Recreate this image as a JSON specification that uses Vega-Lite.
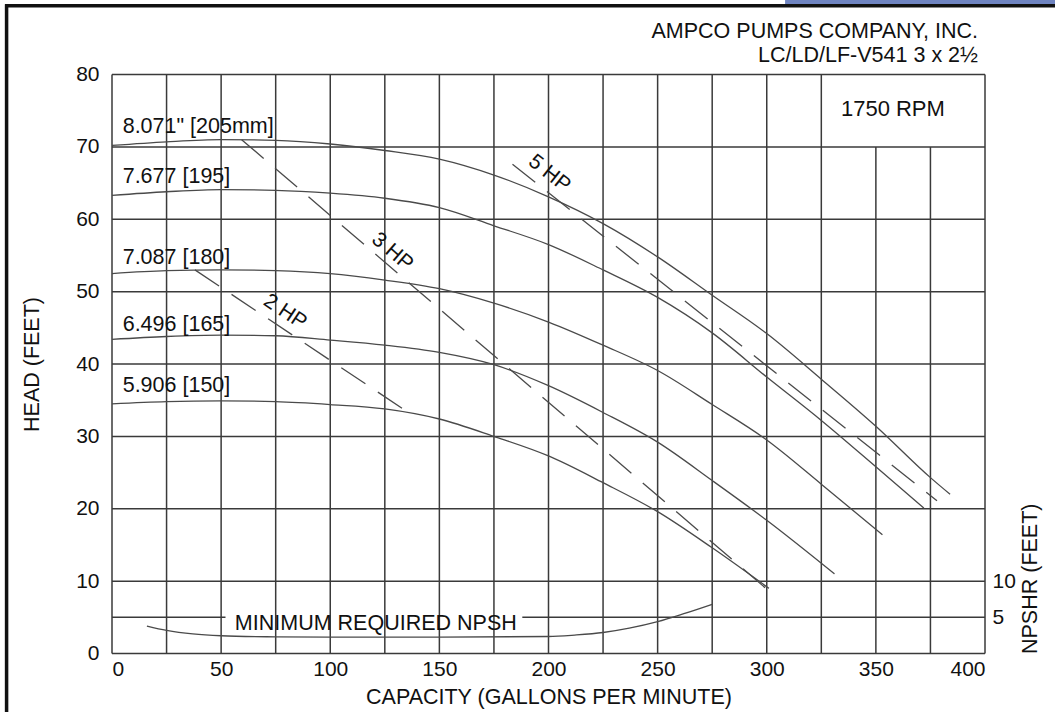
{
  "$schema": "https://vega.github.io/schema/vega-lite/v6.json",
  "width": 873,
  "height": 579,
  "autosize": {"type": "none"},
  "padding": {"left": 112, "top": 74.5, "right": 70, "bottom": 58.5},
  "background": "white",
  "config": {"view": {"stroke": null}, "font": "Liberation Sans"},
  "resolve": {"axis": {"y": "independent"}},
  "layer": [
    {
      "data": {"values": [
        {"x": 0, "x2": 0, "y": 0, "y2": 80},
        {"x": 25, "x2": 25, "y": 0, "y2": 80},
        {"x": 50, "x2": 50, "y": 0, "y2": 80},
        {"x": 75, "x2": 75, "y": 0, "y2": 80},
        {"x": 100, "x2": 100, "y": 0, "y2": 80},
        {"x": 125, "x2": 125, "y": 0, "y2": 80},
        {"x": 150, "x2": 150, "y": 0, "y2": 80},
        {"x": 175, "x2": 175, "y": 0, "y2": 80},
        {"x": 200, "x2": 200, "y": 0, "y2": 80},
        {"x": 225, "x2": 225, "y": 0, "y2": 80},
        {"x": 250, "x2": 250, "y": 0, "y2": 80},
        {"x": 275, "x2": 275, "y": 0, "y2": 80},
        {"x": 300, "x2": 300, "y": 0, "y2": 80},
        {"x": 325, "x2": 325, "y": 0, "y2": 80},
        {"x": 350, "x2": 350, "y": 0, "y2": 70},
        {"x": 375, "x2": 375, "y": 0, "y2": 70},
        {"x": 400, "x2": 400, "y": 0, "y2": 80},
        {"x": 0, "x2": 400, "y": 0, "y2": 0},
        {"x": 0, "x2": 52, "y": 5, "y2": 5},
        {"x": 188, "x2": 400, "y": 5, "y2": 5},
        {"x": 0, "x2": 400, "y": 10, "y2": 10},
        {"x": 0, "x2": 400, "y": 20, "y2": 20},
        {"x": 0, "x2": 400, "y": 30, "y2": 30},
        {"x": 0, "x2": 400, "y": 40, "y2": 40},
        {"x": 0, "x2": 400, "y": 50, "y2": 50},
        {"x": 0, "x2": 400, "y": 60, "y2": 60},
        {"x": 0, "x2": 400, "y": 70, "y2": 70},
        {"x": 0, "x2": 400, "y": 80, "y2": 80}
      ]},
      "mark": {"type": "rule", "color": "#3a3a3a", "strokeWidth": 1.5},
      "encoding": {
        "x": {"field": "x", "type": "quantitative",
          "scale": {"domain": [0, 400], "nice": false, "zero": false},
          "axis": {"values": [0, 50, 100, 150, 200, 250, 300, 350, 400], "title": "CAPACITY (GALLONS PER MINUTE)",
            "domain": false, "ticks": false, "grid": false, "labelFontSize": 21, "labelColor": "#111",
            "labelPadding": 5, "labelFont": "Liberation Sans", "titleFont": "Liberation Sans", "titleFontSize": 21.5,
            "titleFontWeight": "normal", "titleColor": "#111", "titlePadding": 7}},
        "x2": {"field": "x2"},
        "y": {"field": "y", "type": "quantitative",
          "scale": {"domain": [0, 80], "nice": false, "zero": false},
          "axis": {"values": [0, 10, 20, 30, 40, 50, 60, 70, 80], "title": "HEAD (FEET)", "orient": "left",
            "domain": false, "ticks": false, "grid": false, "labelFontSize": 21, "labelColor": "#111",
            "labelPadding": 13, "labelFont": "Liberation Sans", "titleFont": "Liberation Sans", "titleFontSize": 21.5,
            "titleFontWeight": "normal", "titleColor": "#111", "titlePadding": 32}},
        "y2": {"field": "y2"}
      }
    },
    {
      "data": {"values": [
        {"curve": "205", "gpm": 0, "head": 70.2}, {"curve": "205", "gpm": 25, "head": 70.7}, {"curve": "205", "gpm": 50, "head": 71.0},
        {"curve": "205", "gpm": 75, "head": 70.9}, {"curve": "205", "gpm": 100, "head": 70.4}, {"curve": "205", "gpm": 125, "head": 69.5},
        {"curve": "205", "gpm": 150, "head": 68.3}, {"curve": "205", "gpm": 175, "head": 66.1}, {"curve": "205", "gpm": 200, "head": 63.1},
        {"curve": "205", "gpm": 225, "head": 59.4}, {"curve": "205", "gpm": 250, "head": 54.8}, {"curve": "205", "gpm": 275, "head": 49.5},
        {"curve": "205", "gpm": 300, "head": 44.2}, {"curve": "205", "gpm": 325, "head": 37.9}, {"curve": "205", "gpm": 350, "head": 31.4},
        {"curve": "205", "gpm": 375, "head": 24.3}, {"curve": "205", "gpm": 384, "head": 22.0},
        {"curve": "195", "gpm": 0, "head": 63.3}, {"curve": "195", "gpm": 25, "head": 63.8}, {"curve": "195", "gpm": 50, "head": 64.1},
        {"curve": "195", "gpm": 75, "head": 64.0}, {"curve": "195", "gpm": 100, "head": 63.6}, {"curve": "195", "gpm": 125, "head": 62.9},
        {"curve": "195", "gpm": 150, "head": 61.6}, {"curve": "195", "gpm": 175, "head": 59.1}, {"curve": "195", "gpm": 200, "head": 56.5},
        {"curve": "195", "gpm": 225, "head": 53.0}, {"curve": "195", "gpm": 250, "head": 49.2}, {"curve": "195", "gpm": 275, "head": 44.3},
        {"curve": "195", "gpm": 300, "head": 38.2}, {"curve": "195", "gpm": 325, "head": 32.2}, {"curve": "195", "gpm": 350, "head": 25.8},
        {"curve": "195", "gpm": 372, "head": 20.1},
        {"curve": "180", "gpm": 0, "head": 52.5}, {"curve": "180", "gpm": 25, "head": 52.9}, {"curve": "180", "gpm": 50, "head": 53.0},
        {"curve": "180", "gpm": 75, "head": 52.9}, {"curve": "180", "gpm": 100, "head": 52.5}, {"curve": "180", "gpm": 125, "head": 51.6},
        {"curve": "180", "gpm": 150, "head": 50.4}, {"curve": "180", "gpm": 175, "head": 48.4}, {"curve": "180", "gpm": 200, "head": 45.8},
        {"curve": "180", "gpm": 225, "head": 42.6}, {"curve": "180", "gpm": 250, "head": 39.1}, {"curve": "180", "gpm": 275, "head": 34.4},
        {"curve": "180", "gpm": 300, "head": 29.5}, {"curve": "180", "gpm": 325, "head": 23.4}, {"curve": "180", "gpm": 353, "head": 16.4},
        {"curve": "165", "gpm": 0, "head": 43.4}, {"curve": "165", "gpm": 25, "head": 43.8}, {"curve": "165", "gpm": 50, "head": 44.0},
        {"curve": "165", "gpm": 75, "head": 43.9}, {"curve": "165", "gpm": 100, "head": 43.3}, {"curve": "165", "gpm": 125, "head": 42.6},
        {"curve": "165", "gpm": 150, "head": 41.6}, {"curve": "165", "gpm": 175, "head": 39.9}, {"curve": "165", "gpm": 200, "head": 37.0},
        {"curve": "165", "gpm": 225, "head": 33.3}, {"curve": "165", "gpm": 250, "head": 29.2}, {"curve": "165", "gpm": 275, "head": 23.9},
        {"curve": "165", "gpm": 300, "head": 18.4}, {"curve": "165", "gpm": 331, "head": 11.0},
        {"curve": "150", "gpm": 0, "head": 34.5}, {"curve": "150", "gpm": 25, "head": 34.8}, {"curve": "150", "gpm": 50, "head": 34.9},
        {"curve": "150", "gpm": 75, "head": 34.8}, {"curve": "150", "gpm": 100, "head": 34.4}, {"curve": "150", "gpm": 125, "head": 33.8},
        {"curve": "150", "gpm": 150, "head": 32.4}, {"curve": "150", "gpm": 175, "head": 30.0}, {"curve": "150", "gpm": 200, "head": 27.3},
        {"curve": "150", "gpm": 225, "head": 23.6}, {"curve": "150", "gpm": 250, "head": 19.6}, {"curve": "150", "gpm": 275, "head": 14.6},
        {"curve": "150", "gpm": 301, "head": 9.0}
      ]},
      "mark": {"type": "line", "color": "#4a4a4a", "strokeWidth": 1.3, "interpolate": "monotone"},
      "encoding": {
        "x": {"field": "gpm", "type": "quantitative"},
        "y": {"field": "head", "type": "quantitative", "axis": null},
        "detail": {"field": "curve"}
      }
    },
    {
      "data": {"values": [
        {"hp": "2 HP", "gpm": 38, "head": 53.0}, {"hp": "2 HP", "gpm": 137.3, "head": 33.0},
        {"hp": "3 HP", "gpm": 59.4, "head": 71.0}, {"hp": "3 HP", "gpm": 300, "head": 8.9},
        {"hp": "5 HP", "gpm": 183.5, "head": 67.6}, {"hp": "5 HP", "gpm": 378, "head": 21.1}
      ]},
      "mark": {"type": "line", "color": "#4a4a4a", "strokeWidth": 1.3, "strokeDash": [29, 15]},
      "encoding": {
        "x": {"field": "gpm", "type": "quantitative"},
        "y": {"field": "head", "type": "quantitative", "axis": null},
        "detail": {"field": "hp"}
      }
    },
    {
      "data": {"values": [
        {"gpm": 16, "npsh": 3.8}, {"gpm": 25, "npsh": 3.2}, {"gpm": 37, "npsh": 2.7}, {"gpm": 50, "npsh": 2.45},
        {"gpm": 75, "npsh": 2.3}, {"gpm": 100, "npsh": 2.25}, {"gpm": 150, "npsh": 2.25}, {"gpm": 200, "npsh": 2.35},
        {"gpm": 212, "npsh": 2.55}, {"gpm": 225, "npsh": 2.9}, {"gpm": 237, "npsh": 3.5}, {"gpm": 250, "npsh": 4.4},
        {"gpm": 262, "npsh": 5.5}, {"gpm": 275, "npsh": 6.8}
      ]},
      "mark": {"type": "line", "color": "#4a4a4a", "strokeWidth": 1.3, "interpolate": "monotone"},
      "encoding": {
        "x": {"field": "gpm", "type": "quantitative"},
        "y": {"field": "npsh", "type": "quantitative",
          "axis": {"orient": "right", "values": [5, 10], "title": "NPSHR (FEET)", "domain": false, "ticks": false, "grid": false,
            "labelFontSize": 21, "labelColor": "#111", "labelPadding": 7, "labelFont": "Liberation Sans",
            "titleFont": "Liberation Sans", "titleFontSize": 21.5, "titleFontWeight": "normal", "titleColor": "#111",
            "titleAnchor": "start", "titleAngle": -90, "titlePadding": 26}}
      }
    },
    {
      "data": {"values": [
        {"label": "8.071\" [205mm]", "gpm": 4.9, "head": 72.7},
        {"label": "7.677 [195]", "gpm": 4.9, "head": 65.9},
        {"label": "7.087 [180]", "gpm": 4.9, "head": 54.7},
        {"label": "6.496 [165]", "gpm": 4.9, "head": 45.4},
        {"label": "5.906 [150]", "gpm": 4.9, "head": 36.9},
        {"label": "MINIMUM REQUIRED NPSH", "gpm": 56.3, "head": 4.1}
      ]},
      "mark": {"type": "text", "align": "left", "baseline": "middle", "fontSize": 21.5, "color": "#111", "font": "Liberation Sans"},
      "encoding": {
        "x": {"field": "gpm", "type": "quantitative"},
        "y": {"field": "head", "type": "quantitative", "axis": null},
        "text": {"field": "label"}
      }
    },
    {
      "data": {"values": [{"label": "1750 RPM", "gpm": 357.8, "head": 75.3}]},
      "mark": {"type": "text", "align": "center", "baseline": "middle", "fontSize": 22, "color": "#111", "font": "Liberation Sans"},
      "encoding": {
        "x": {"field": "gpm", "type": "quantitative"},
        "y": {"field": "head", "type": "quantitative", "axis": null},
        "text": {"field": "label"}
      }
    },
    {
      "data": {"values": [
        {"label": "AMPCO PUMPS COMPANY, INC.", "gpm": 396.8, "head": 85.84},
        {"label": "LC/LD/LF-V541 3 x 2½", "gpm": 396.8, "head": 82.53}
      ]},
      "mark": {"type": "text", "align": "right", "baseline": "middle", "fontSize": 21.5, "color": "#111", "font": "Liberation Sans"},
      "encoding": {
        "x": {"field": "gpm", "type": "quantitative"},
        "y": {"field": "head", "type": "quantitative", "axis": null},
        "text": {"field": "label"}
      }
    },
    {
      "data": {"values": [{"label": "5 HP", "gpm": 200.4, "head": 66.3}]},
      "mark": {"type": "text", "align": "center", "baseline": "middle", "fontSize": 21, "angle": 38.4, "color": "#111", "font": "Liberation Sans"},
      "encoding": {
        "x": {"field": "gpm", "type": "quantitative"},
        "y": {"field": "head", "type": "quantitative", "axis": null},
        "text": {"field": "label"}
      }
    },
    {
      "data": {"values": [{"label": "3 HP", "gpm": 128.4, "head": 55.5}]},
      "mark": {"type": "text", "align": "center", "baseline": "middle", "fontSize": 21, "angle": 40.6, "color": "#111", "font": "Liberation Sans"},
      "encoding": {
        "x": {"field": "gpm", "type": "quantitative"},
        "y": {"field": "head", "type": "quantitative", "axis": null},
        "text": {"field": "label"}
      }
    },
    {
      "data": {"values": [{"label": "2 HP", "gpm": 79.3, "head": 47.2}]},
      "mark": {"type": "text", "align": "center", "baseline": "middle", "fontSize": 21, "angle": 33.6, "color": "#111", "font": "Liberation Sans"},
      "encoding": {
        "x": {"field": "gpm", "type": "quantitative"},
        "y": {"field": "head", "type": "quantitative", "axis": null},
        "text": {"field": "label"}
      }
    },
    {
      "data": {"values": [{}]},
      "mark": {"type": "rule", "color": "#111", "strokeWidth": 3.5},
      "encoding": {
        "x": {"datum": -49, "type": "quantitative"},
        "x2": {"datum": 433},
        "y": {"datum": 89.5, "type": "quantitative", "axis": null}
      }
    },
    {
      "data": {"values": [{}]},
      "mark": {"type": "rule", "color": "#111", "strokeWidth": 3.5},
      "encoding": {
        "x": {"datum": -48.3, "type": "quantitative"},
        "y": {"datum": 89.7, "type": "quantitative", "axis": null},
        "y2": {"datum": -9}
      }
    },
    {
      "data": {"values": [{}]},
      "mark": {"type": "rect", "color": "#6f84c0"},
      "encoding": {
        "x": {"datum": 308.4, "type": "quantitative"},
        "x2": {"datum": 433},
        "y": {"datum": 89.75, "type": "quantitative", "axis": null},
        "y2": {"datum": 91}
      }
    }
  ]
}
